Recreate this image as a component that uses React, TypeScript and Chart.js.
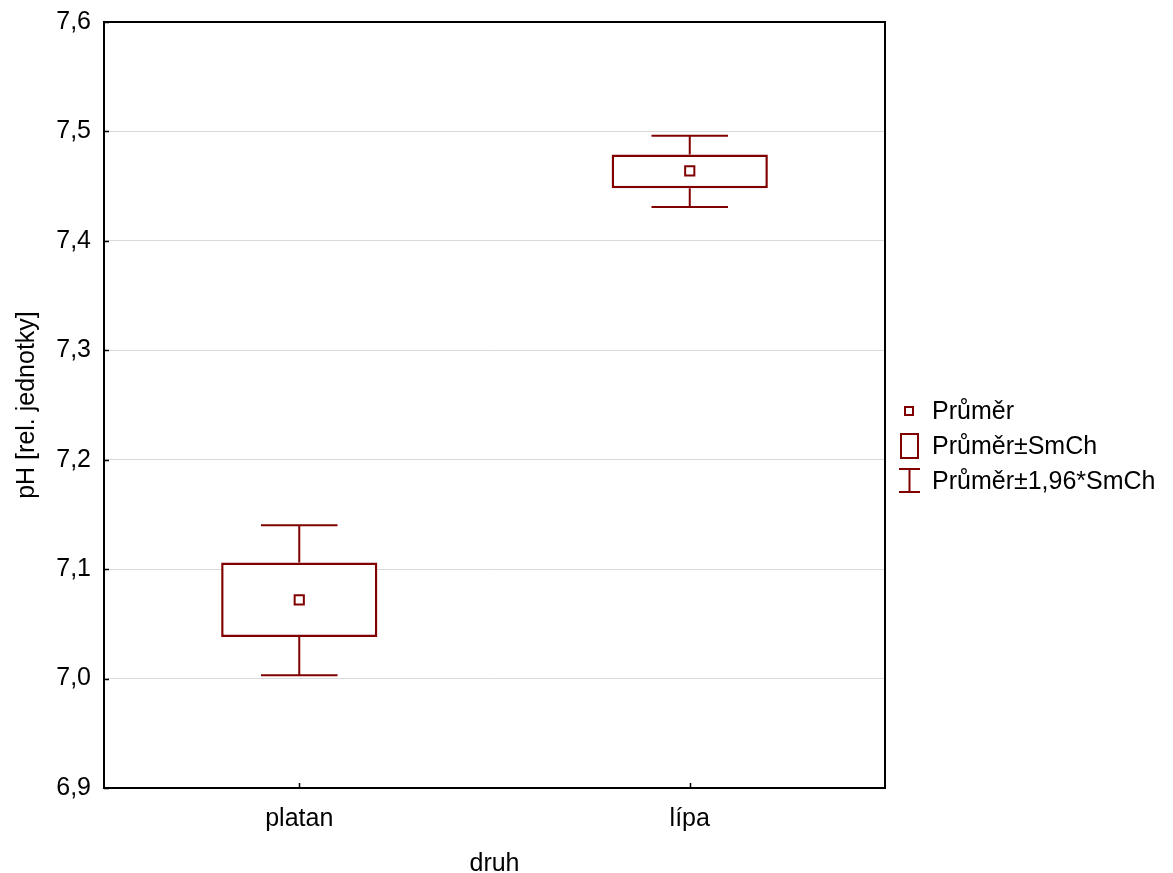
import React, { useEffect, useRef } from "react";
import { Chart, registerables } from "chart.js";

Chart.register(...registerables);

// ---- Data ----
const categories = ["platan", "lípa"];
const means = [7.072, 7.464];
const seLow = [7.038, 7.448];
const seHigh = [7.106, 7.479];
const ciLow = [7.003, 7.431];
const ciHigh = [7.140, 7.496];
const yMin = 6.9;
const yMax = 7.6;
const yStep = 0.1;
const legendLabels = ["Průměr", "Průměr±SmCh", "Průměr±1,96*SmCh"];
const xTitle = "druh";
const yTitle = "pH [rel. jednotky]";

const COLOR = "#800000";
const FONT = "'Liberation Sans', Arial, sans-serif";
const FS = 25;

const decor = {
  id: "decor",
  beforeDatasetsDraw(chart: any) {
    const { ctx, scales } = chart;
    const x = scales.x;
    const y = scales.y;
    ctx.save();
    ctx.strokeStyle = COLOR;
    ctx.lineWidth = 2;
    const catW = x.width / categories.length;
    const capHalf = catW * 0.098;
    categories.forEach((_, i) => {
      const cx = x.getPixelForValue(i);
      const yt = y.getPixelForValue(ciHigh[i]);
      const yb = y.getPixelForValue(ciLow[i]);
      const st = y.getPixelForValue(seHigh[i]);
      const sb = y.getPixelForValue(seLow[i]);
      ctx.beginPath();
      ctx.moveTo(cx, st);
      ctx.lineTo(cx, yt);
      ctx.moveTo(cx - capHalf, yt);
      ctx.lineTo(cx + capHalf, yt);
      ctx.moveTo(cx, sb);
      ctx.lineTo(cx, yb);
      ctx.moveTo(cx - capHalf, yb);
      ctx.lineTo(cx + capHalf, yb);
      ctx.stroke();
    });
    ctx.restore();
  },
  afterDraw(chart: any) {
    const { ctx, chartArea: a, scales } = chart;
    const x = scales.x;
    const y = scales.y;
    ctx.save();
    // frame
    ctx.strokeStyle = "#000";
    ctx.lineWidth = 2;
    ctx.strokeRect(a.left, a.top, a.right - a.left, a.bottom - a.top);
    // inward ticks
    ctx.lineWidth = 1.5;
    ctx.beginPath();
    for (let v = yMin; v <= yMax + 1e-9; v += yStep) {
      const py = Math.round(y.getPixelForValue(v)) + 0.5;
      ctx.moveTo(a.left, py);
      ctx.lineTo(a.left + 5, py);
    }
    categories.forEach((_, i) => {
      const px = Math.round(x.getPixelForValue(i)) + 0.5;
      ctx.moveTo(px, a.bottom);
      ctx.lineTo(px, a.bottom - 5);
    });
    ctx.stroke();

    // axis titles
    ctx.fillStyle = "#000";
    ctx.font = `${FS}px ${FONT}`;
    ctx.textAlign = "center";
    ctx.textBaseline = "middle";
    ctx.fillText(xTitle, (a.left + a.right) / 2, 864);
    ctx.save();
    ctx.translate(27, (a.top + a.bottom) / 2);
    ctx.rotate(-Math.PI / 2);
    ctx.fillText(yTitle, 0, 0);
    ctx.restore();

    // legend
    const lx = 932;
    const rows = [411, 446, 481];
    ctx.textAlign = "left";
    ctx.font = `${FS}px ${FONT}`;
    legendLabels.forEach((t, i) => ctx.fillText(t, lx, rows[i] + 1));
    ctx.strokeStyle = COLOR;
    ctx.lineWidth = 2;
    ctx.strokeRect(905, rows[0] - 4, 8, 8);
    ctx.strokeRect(901, rows[1] - 12, 17, 24);
    ctx.beginPath();
    ctx.moveTo(909.5, rows[2] - 12);
    ctx.lineTo(909.5, rows[2] + 11);
    ctx.moveTo(899, rows[2] - 12);
    ctx.lineTo(920, rows[2] - 12);
    ctx.moveTo(899, rows[2] + 11);
    ctx.lineTo(920, rows[2] + 11);
    ctx.stroke();
    ctx.restore();
  },
};

export default function App() {
  const ref = useRef<HTMLCanvasElement>(null);
  useEffect(() => {
    if (!ref.current) return;
    const chart = new Chart(ref.current, {
      type: "bar",
      data: {
        labels: categories,
        datasets: [
          {
            type: "line",
            data: means,
            showLine: false,
            pointStyle: "rect",
            pointRadius: 6.5,
            pointBorderWidth: 2,
            pointBorderColor: COLOR,
            pointBackgroundColor: "#fff",
            order: 0,
          } as any,
          {
            type: "bar",
            data: categories.map((_, i) => [seLow[i], seHigh[i]]),
            backgroundColor: "#fff",
            borderColor: COLOR,
            borderWidth: 2.5,
            borderSkipped: false,
            barPercentage: 0.4,
            categoryPercentage: 1,
            order: 1,
          } as any,
        ],
      },
      plugins: [decor],
      options: {
        animation: false,
        responsive: false,
        maintainAspectRatio: false,
        layout: { padding: { left: 0, right: 288, top: 22, bottom: 0 } },
        plugins: { legend: { display: false }, tooltip: { enabled: false } },
        scales: {
          x: {
            type: "category",
            offset: true,
            grid: { display: false, drawTicks: false },
            border: { display: false },
            ticks: {
              color: "#000",
              font: { size: FS, family: FONT, lineHeight: 1 },
              padding: 19,
            },
            afterFit: (s: any) => {
              s.height = 85;
              s.paddingLeft = 0;
              s.paddingRight = 0;
            },
          },
          y: {
            min: yMin,
            max: yMax,
            grid: {
              color: (c: any) =>
                c.tick && (Math.abs(c.tick.value - yMin) < 1e-6 || Math.abs(c.tick.value - yMax) < 1e-6)
                  ? "rgba(0,0,0,0)"
                  : "#d9d9d9",
              lineWidth: 1,
              drawTicks: false,
            },
            border: { display: false },
            ticks: {
              stepSize: yStep,
              color: "#000",
              font: { size: FS, family: FONT },
              padding: 13,
              callback: (v: any) => Number(v).toFixed(1).replace(".", ","),
            },
            afterFit: (s: any) => {
              s.width = 104;
              s.paddingTop = 0;
              s.paddingBottom = 0;
            },
          },
        },
      } as any,
    });
    return () => chart.destroy();
  }, []);
  return (
    <div style={{ position: "fixed", left: 0, top: 0, width: 1173, height: 873, background: "#fff" }}>
      <canvas ref={ref} width={1173} height={873} style={{ width: 1173, height: 873 }} />
    </div>
  );
}
